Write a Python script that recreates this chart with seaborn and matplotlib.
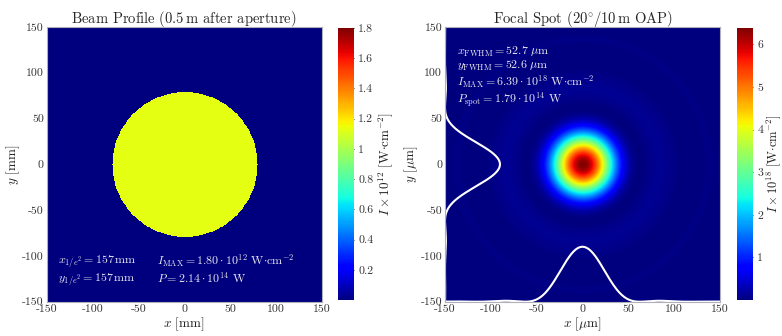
import numpy as np
import pandas as pd
import seaborn as sns
import matplotlib
matplotlib.use("Agg")
import matplotlib.pyplot as plt

# values
beam_radius_mm = 79.0        # radius of the flat-top disk
beam_level = 1.13            # flat-top intensity, x 1e12 W/cm^2
beam_vmax = 1.80
beam_cbar_ticks = [0.2, 0.4, 0.6, 0.8, 1.0, 1.2, 1.4, 1.6, 1.8]
beam_cbar_labels = ["0.2", "0.4", "0.6", "0.8", "1", "1.2", "1.4", "1.6", "1.8"]

spot_fwhm_um = 52.7
spot_peak = 6.39             # x 1e18 W/cm^2
spot_cbar_ticks = [1, 2, 3, 4, 5, 6]
lineout_height = 60.0        # height of the white lineouts in axis units

axis_ticks = [-150, -100, -50, 0, 50, 100, 150]

beam_notes = [
    (-138, -106, r"$x_{1/e^2} = \mathbf{157}\,$mm"),
    (-138, -125, r"$y_{1/e^2} = \mathbf{157}\,$mm"),
    (-30, -106, r"$I_{\rm MAX} = \mathbf{1.80\cdot10^{12}}$ W$\cdot$cm$^{-2}$"),
    (-30, -125, r"$P = \mathbf{2.14\cdot10^{14}}$ W"),
]
spot_notes = [
    (-137, 123, r"$x_{\rm FWHM} = \mathbf{52.7}\ \mu$m"),
    (-137, 107, r"$y_{\rm FWHM} = \mathbf{52.6}\ \mu$m"),
    (-137, 89, r"$I_{\rm MAX} = \mathbf{6.39\cdot10^{18}}$ W$\cdot$cm$^{-2}$"),
    (-137, 70, r"$P_{\rm spot} = \mathbf{1.79\cdot10^{14}}$ W"),
]

sns.set_style("white")
plt.rcParams["font.family"] = "serif"
plt.rcParams["font.serif"] = ["cmr10"]
plt.rcParams["mathtext.fontset"] = "cm"
plt.rcParams["axes.unicode_minus"] = False
plt.rcParams["axes.formatter.use_mathtext"] = False


# Airy pattern (focus of a flat-top beam), scaled to the measured FWHM
def bessel_j1(x):
    tau = np.linspace(0, np.pi, 400)
    return np.trapezoid(np.cos(tau[None, :] - x[:, None] * np.sin(tau[None, :])), tau, axis=1) / np.pi


def airy(r):
    k = 2 * 1.6163 / spot_fwhm_um
    rr = np.linspace(0, 300, 3001)
    xx = k * rr
    xx[0] = 1e-9
    prof = (2 * bessel_j1(xx) / xx) ** 2
    prof[0] = 1.0
    return np.interp(r, rr, prof)


# left field
g = np.linspace(-150, 150, 601)
X, Y = np.meshgrid(g, g)
beam = np.where(X**2 + Y**2 <= beam_radius_mm**2, beam_level, 0.0)

# right field
s = np.linspace(-150, 150, 401)
SX, SY = np.meshgrid(s, s)
spot = spot_peak * airy(np.hypot(SX, SY))

lineout_x = pd.DataFrame({"x": s, "y": -150 + lineout_height * airy(np.abs(s))})
lineout_y = pd.DataFrame({"y": s, "x": -150 + lineout_height * airy(np.abs(s))})

fig = plt.figure(figsize=(7.82, 3.36), dpi=100)
ax1 = fig.add_axes([0.0597, 0.102, 0.3517, 0.818])
cax1 = fig.add_axes([0.432, 0.107, 0.0205, 0.81])
ax2 = fig.add_axes([0.569, 0.102, 0.3517, 0.818])
cax2 = fig.add_axes([0.9425, 0.107, 0.0205, 0.81])

txt_col = "#e8e8f0"

im1 = ax1.imshow(beam, extent=[-150, 150, -150, 150], origin="lower",
                 cmap="jet", vmin=0, vmax=beam_vmax, aspect="auto", interpolation="nearest")
for x, y, t in beam_notes:
    ax1.text(x, y, t, color=txt_col, fontsize=8.6, va="center")
ax1.set_title(r"Beam Profile (0.5$\,$m after aperture)", fontsize=10.5, pad=3)
ax1.set_xlabel(r"$x$ [mm]", fontsize=9.5, labelpad=1)
ax1.set_ylabel(r"$y$ [mm]", fontsize=9.5, labelpad=0)

cb1 = fig.colorbar(im1, cax=cax1)
cb1.set_ticks(beam_cbar_ticks)
cb1.set_ticklabels(beam_cbar_labels)
cb1.set_label(r"$I \times 10^{12}$ [W$\cdot$cm$^{-2}$]", fontsize=9.5, labelpad=2)

im2 = ax2.imshow(spot, extent=[-150, 150, -150, 150], origin="lower",
                 cmap="jet", vmin=0, vmax=spot_peak, aspect="auto", interpolation="bilinear")
sns.lineplot(data=lineout_x, x="x", y="y", ax=ax2, color="white", lw=1.5, sort=False)
sns.lineplot(data=lineout_y, x="x", y="y", ax=ax2, color="white", lw=1.5, sort=False, orient="y")
for x, y, t in spot_notes:
    ax2.text(x, y, t, color=txt_col, fontsize=8.6, va="center")
ax2.set_title(r"Focal Spot (20$^{\circ}$/10$\,$m OAP)", fontsize=10.5, pad=3)
ax2.set_xlabel(r"$x$ [$\mu$m]", fontsize=9.5, labelpad=1)
ax2.set_ylabel(r"$y$ [$\mu$m]", fontsize=9.5, labelpad=0)

cb2 = fig.colorbar(im2, cax=cax2)
cb2.set_ticks(spot_cbar_ticks)
cb2.set_label(r"$I \times 10^{18}$ [W$\cdot$cm$^{-2}$]", fontsize=9, labelpad=1)

for ax in (ax1, ax2):
    ax.set_xlim(-150, 150)
    ax.set_ylim(-150, 150)
    ax.set_xticks(axis_ticks)
    ax.set_yticks(axis_ticks)
    ax.tick_params(labelsize=8.5, length=0, pad=2, colors="#333333")
    for sp in ax.spines.values():
        sp.set_color("#b0b0b8")
        sp.set_linewidth(0.8)
for cax in (cax1, cax2):
    cax.tick_params(labelsize=8.5, length=2.5, direction="in", pad=3, colors="#333333")
    cax.yaxis.label.set_color("#222222")
    for sp in cax.spines.values():
        sp.set_visible(False)

fig.savefig("out.png", dpi=100)
